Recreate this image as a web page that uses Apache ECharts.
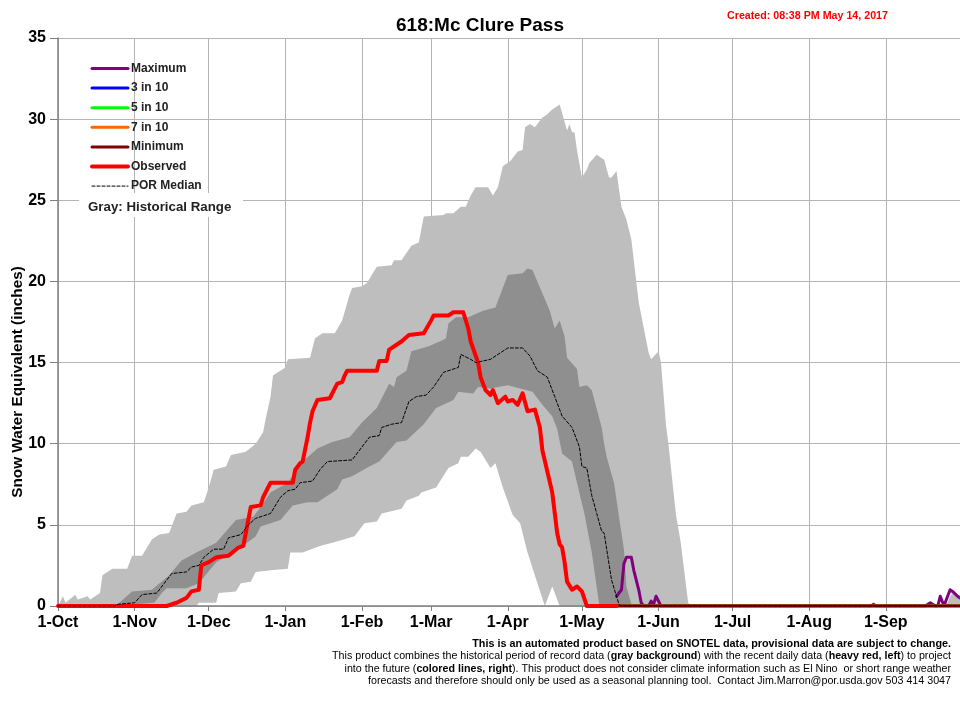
<!DOCTYPE html>
<html>
<head>
<meta charset="utf-8">
<title>618:Mc Clure Pass</title>
<script src="https://cdn.jsdelivr.net/npm/echarts@6/dist/echarts.min.js"></script>
<style>
html,body{margin:0;padding:0;background:#fff}
#chart{width:960px;height:714px}
</style>
</head>
<body>
<div id="chart"></div>
<script>
// water year axis: day 0 = 1-Oct
var monthNames = ['Oct','Nov','Dec','Jan','Feb','Mar','Apr','May','Jun','Jul','Aug','Sep'];
var monthDays = [31,30,31,31,28,31,30,31,30,31,31,30];

// historical range, [day, inches]
var histMax = [[0,0],[2,0.6],[3,0.2],[7,0.7],[8,0.4],[12,0.6],[13,0.4],[17,0.8],[18,1.9],[22,2.3],[28,2.3],[30,3.1],[34,3.1],[38,4.1],[41,4.4],[45,4.5],[48,5.7],[52,5.8],[54,6.2],[59,6.4],[61,7.3],[63,8.4],[68,8.6],[70,9.3],[76,9.5],[80,10.0],[83,10.7],[84,11.5],[86,12.9],[87,14.2],[89,14.4],[92,14.7],[93,15.2],[102,15.3],[104,16.5],[107,16.8],[112,16.8],[115,17.6],[118,19.2],[119,19.6],[123,19.7],[125,19.9],[129,20.9],[135,21.0],[136,21.3],[139,21.3],[143,22.2],[146,22.4],[148,24.0],[156,24.1],[157,24.2],[160,24.2],[163,24.6],[165,24.6],[167,25.3],[169,25.8],[172,25.8],[174,25.8],[176,25.3],[178,25.8],[180,27.1],[183,27.4],[186,28.0],[188,28.1],[189,29.5],[191,29.7],[193,29.5],[196,30.1],[198,30.3],[200,30.6],[202,30.8],[203,30.9],[206,29.3],[207,29.7],[208,29.2],[209,29.2],[210,28.1],[212,26.4],[214,26.9],[215,27.3],[218,27.8],[221,27.5],[223,26.4],[224,26.4],[226,26.8],[228,24.6],[230,23.8],[232,22.6],[235,18.7],[239,15.6],[240,15.2],[243,15.7],[244,15.0],[246,11.2],[247,10.0],[250,5.7],[252,3.9],[255,0.2],[256,0],[358,0],[360,0.2],[361,0.6],[362,0.8],[364,0.6],[365,0.5]];
var bandHigh = [[23,0],[24,0.1],[30,0.9],[38,1.0],[45,1.9],[50,2.8],[56,3.3],[64,3.9],[72,5.3],[79,5.5],[82,6.1],[86,7.0],[93,7.6],[99,8.9],[105,9.7],[111,10.1],[118,10.4],[123,11.3],[129,12.2],[134,13.7],[136,13.5],[137,14.1],[141,14.5],[143,15.7],[150,16.0],[156,16.4],[157,16.5],[158,17.4],[161,17.8],[166,17.8],[172,18.2],[177,18.4],[182,20.4],[188,20.5],[190,20.8],[192,20.7],[199,18.2],[201,17.1],[203,17.6],[205,16.6],[206,15.3],[210,14.6],[211,13.5],[214,13.6],[216,13.3],[220,11.0],[221,10.0],[222,9.2],[225,7.6],[227,5.5],[229,3.5],[230,1.2],[232,0.1],[233,0]];
var bandLow = [[23,0],[39,0.2],[42,0.8],[44,1.1],[52,1.1],[57,1.4],[64,2.7],[74,3.6],[80,4.3],[82,4.9],[90,5.3],[95,6.2],[101,6.4],[105,6.4],[113,7.2],[115,7.8],[119,8.0],[126,8.6],[130,8.9],[137,10.1],[141,10.2],[148,11.2],[153,12.2],[160,12.7],[162,13.2],[168,13.1],[170,13.5],[175,13.4],[182,13.6],[187,13.4],[192,13.2],[196,12.4],[200,11.7],[202,10.9],[204,9.4],[208,8.9],[210,7.6],[213,5.7],[216,3.3],[219,0.1],[220,0]];
var histMin = [[56,0],[57,0.2],[64,0.2],[65,0.8],[72,0.9],[74,1.4],[78,1.5],[80,2.1],[86,2.2],[93,2.3],[94,3.3],[99,3.3],[106,3.7],[111,3.9],[120,4.3],[124,5.1],[129,5.2],[131,5.7],[139,6.0],[141,6.5],[146,6.8],[147,7.0],[153,7.3],[158,8.5],[162,8.8],[163,9.2],[166,9.2],[169,9.7],[171,9.5],[175,8.5],[177,8.8],[180,7.3],[184,5.6],[187,5.1],[190,3.3],[194,1.4],[197,0],[200,1.2],[203,0]];
var porMedian = [[0,0],[23,0],[24,0.1],[31,0.2],[34,0.7],[40,0.8],[46,2.0],[52,2.1],[54,2.4],[57,2.5],[59,3.0],[63,3.5],[67,3.5],[69,4.2],[74,4.4],[77,5.0],[80,5.4],[86,5.7],[90,6.7],[93,7.1],[96,7.2],[98,7.6],[103,7.7],[106,8.4],[109,8.9],[119,9.0],[123,9.8],[126,10.4],[130,10.5],[131,11.0],[135,11.2],[139,11.3],[142,12.6],[145,12.9],[149,13.0],[152,13.5],[156,14.4],[162,14.7],[163,15.5],[167,15.2],[169,15.0],[175,15.2],[176,15.3],[182,15.9],[188,15.9],[191,15.4],[194,14.5],[198,14.1],[201,12.9],[204,11.7],[208,11.0],[211,9.8],[212,8.6],[214,8.5],[216,6.8],[218,5.7],[220,4.6],[221,4.5],[224,1.6],[227,0.1],[228,0],[365,0]];

// this year and the projection
var observed = [[0,0],[44,0],[48,0.2],[52,0.5],[54,0.9],[57,1.0],[58,2.5],[61,2.7],[64,3.0],[69,3.1],[73,3.6],[75,3.7],[78,6.1],[82,6.2],[83,6.7],[86,7.6],[95,7.6],[96,8.4],[98,8.8],[99,8.9],[101,10.4],[102,11.3],[103,12.0],[105,12.7],[110,12.8],[113,13.7],[115,13.8],[116,14.2],[117,14.5],[129,14.5],[130,15.1],[133,15.1],[134,15.8],[137,16.1],[139,16.3],[142,16.7],[148,16.8],[151,17.6],[152,17.9],[158,17.9],[160,18.1],[164,18.1],[166,17.1],[167,16.3],[170,15.0],[171,14.1],[173,13.3],[175,13.0],[176,13.3],[178,12.5],[181,12.9],[182,12.6],[184,12.7],[186,12.4],[188,13.1],[190,12.0],[193,12.1],[195,11.0],[196,9.6],[200,7.0],[202,4.5],[203,3.8],[204,3.6],[205,2.7],[206,1.5],[208,1.0],[210,1.2],[212,0.9],[214,0],[226,0]];
var forecastMax = [[226,0.6],[228,1.0],[229,2.6],[230,3.0],[232,3.0],[233,2.2],[235,1.0],[236,0.2],[237,0],[239,0],[240,0.3],[241,0.1],[242,0.6],[244,0],[329,0],[330,0.1],[331,0],[351,0],[352,0.1],[353,0.2],[355,0],[356,0],[357,0.6],[358,0.2],[359,0.2],[361,1.0],[362,0.9],[364,0.6],[365,0.5]];
var forecastFlat = [[226,0],[365,0]];

var legendNames = ['Maximum','3 in 10','5 in 10','7 in 10','Minimum','Observed','POR Median'];
var footLines = [
    '{b|This is an automated product based on SNOTEL data, provisional data are subject to change.}',
    'This product combines the historical period of record data ({m|gray background}) with the recent daily data ({m|heavy red, left}) to project',
    'into the future ({m|colored lines, right}). This product does not consider climate information such as El Nino  or short range weather',
    'forecasts and therefore should only be used as a seasonal planning tool.  Contact Jim.Marron@por.usda.gov 503 414 3047'
];

var fontName = '"Liberation Sans", Arial, sans-serif';
var days = [], monthStart = {};
monthNames.forEach(function (m, i) {
    monthStart[days.length] = true;
    for (var d = 1; d <= monthDays[i]; d++) days.push(d + '-' + m);
});
days.push('1-Oct');

function isMonthStart(i) { return monthStart[i] === true; }

function areaLayer(data, color) {
    return {
        type: 'line', data: data, symbol: 'none', silent: true, animation: false, z: 1,
        lineStyle: {width: 0}, itemStyle: {color: color},
        areaStyle: {color: color, opacity: 1}
    };
}
function lineLayer(name, data, color, width, type) {
    return {
        name: name, type: 'line', data: data, symbol: 'none', animation: false, z: 3,
        lineStyle: {color: color, width: width, type: type || 'solid', cap: 'round', join: 'round'},
        itemStyle: {color: color}
    };
}

var chart = echarts.init(document.getElementById('chart'), null, {renderer: 'canvas'});

var footGraphics = footLines.map(function (t, i) {
    return {
        type: 'text', x: 951, y: 644 + i * 12.3, z: 20,
        style: {
            text: t, align: 'right', verticalAlign: 'middle', fill: '#000',
            font: '10.7px ' + fontName,
            rich: {
                b: {font: 'bold 10.8px ' + fontName, fill: '#000'},
                m: {font: 'bold 10.7px ' + fontName, fill: '#000'}
            }
        }
    };
});

chart.setOption({
    backgroundColor: '#fff',
    textStyle: {fontFamily: fontName},
    title: {
        text: '618:Mc Clure Pass', left: 475, top: 11, textAlign: 'center',
        textStyle: {fontSize: 19, fontWeight: 'bold', color: '#000', fontFamily: fontName}
    },
    grid: {left: 58, top: 38, width: 902, height: 568, containLabel: false},
    legend: {
        data: legendNames.map(function (n) {
            var isMedian = n === 'POR Median';
            return {name: n, lineStyle: {width: isMedian ? 1 : (n === 'Observed' ? 4 : 3)}};
        }),
        orient: 'vertical', left: 90, top: 62.5,
        itemWidth: 36, itemHeight: 14, itemGap: 7.6, selectedMode: false, padding: 0,
        itemStyle: {opacity: 0},
        textStyle: {fontSize: 12, fontWeight: 'bold', color: '#222', fontFamily: fontName, padding: [0, 0, 0, -2]}
    },
    xAxis: [{
        // gridlines only, they sit under the gray areas
        type: 'category', data: days, boundaryGap: false,
        axisLine: {show: false}, axisTick: {show: false}, axisLabel: {show: false},
        splitLine: {show: true, interval: function (i) { return isMonthStart(i); }, lineStyle: {color: '#b4b4b4', width: 1}}
    }, {
        // axis line, ticks and labels, between the areas and the lines
        type: 'category', data: days, boundaryGap: false, position: 'bottom', z: 2,
        axisLine: {onZero: false, lineStyle: {color: '#808080', width: 1.5}},
        axisTick: {interval: function (i) { return isMonthStart(i); }, length: 5, lineStyle: {color: '#808080'}},
        axisLabel: {
            interval: function (i) { return isMonthStart(i); }, margin: 9, hideOverlap: false,
            fontSize: 16, fontWeight: 'bold', color: '#000', fontFamily: fontName
        },
        splitLine: {show: false}
    }],
    yAxis: {
        type: 'value', min: 0, max: 35, interval: 5,
        axisLine: {show: true, lineStyle: {color: '#808080', width: 1.5}},
        axisTick: {show: true, length: 8, lineStyle: {color: '#808080'}},
        axisLabel: {margin: 12, fontSize: 16, fontWeight: 'bold', color: '#000', fontFamily: fontName},
        splitLine: {lineStyle: {color: '#b4b4b4', width: 1}}
    },
    series: [
        areaLayer(histMax, '#bebebe'),
        areaLayer(bandHigh, '#8f8f8f'),
        areaLayer(bandLow, '#bebebe'),
        areaLayer(histMin, '#ffffff'),
        lineLayer('Maximum', forecastMax, '#800080', 3),
        lineLayer('3 in 10', forecastFlat, '#0000ff', 3),
        lineLayer('5 in 10', forecastFlat, '#00ff00', 3),
        lineLayer('7 in 10', forecastFlat, '#ff6600', 3),
        lineLayer('Minimum', forecastFlat, '#800000', 3),
        lineLayer('Observed', observed, '#ff0000', 4),
        lineLayer('POR Median', porMedian, '#000000', 1, [3, 2])
    ],
    graphic: [
        {type: 'rect', z: 10, shape: {x: 79, y: 193, width: 164, height: 24}, style: {fill: '#fff'}},
        {type: 'text', z: 11, x: 88, y: 207, style: {
            text: 'Gray: Historical Range', verticalAlign: 'middle', fill: '#222',
            font: 'bold 13.3px ' + fontName
        }},
        {type: 'text', z: 20, x: 727, y: 16, style: {
            text: 'Created: 08:38 PM May 14, 2017', verticalAlign: 'middle', fill: '#ff0000',
            font: 'bold 10.7px ' + fontName
        }},
        {type: 'text', z: 20, x: 18, y: 382, rotation: Math.PI / 2, style: {
            text: 'Snow Water Equivalent (inches)', align: 'center', verticalAlign: 'middle', fill: '#000',
            font: 'bold 15.3px ' + fontName
        }}
    ].concat(footGraphics)
});
</script>
</body>
</html>
